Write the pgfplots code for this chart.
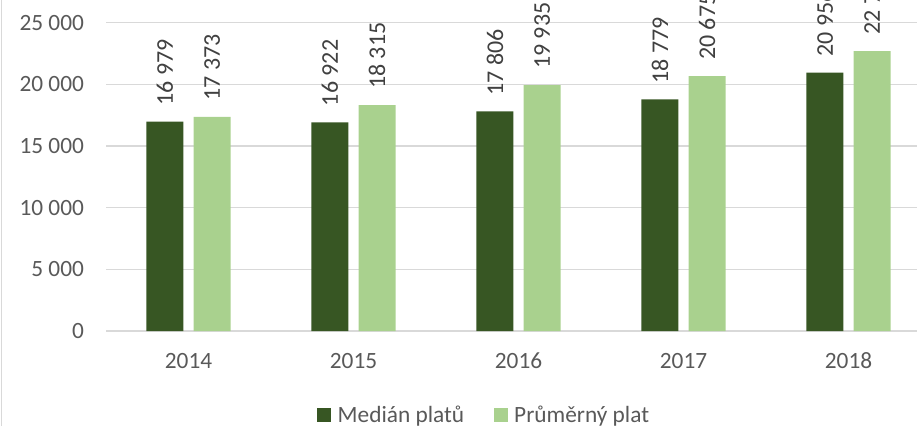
\documentclass[border=0pt]{standalone}
\usepackage{fontspec}
\setmainfont{Carlito}
\usepackage{pgfplots}
\pgfplotsset{compat=1.18}
\definecolor{darkg}{HTML}{375623}
\definecolor{lightg}{HTML}{A9D18E}
\definecolor{gridc}{HTML}{D9D9D9}
\definecolor{tickc}{HTML}{595959}
\definecolor{labc}{HTML}{404040}
\begin{document}
\begin{tikzpicture}
\useasboundingbox (0,0) rectangle (687.75pt,319.5pt);
\clip (0,0) rectangle (687.75pt,319.5pt);
\draw[gridc, line width=0.9pt] (0.9pt,0) -- (0.9pt,319.5pt);
\begin{axis}[
  at={(79.5pt,71.25pt)}, anchor=south west,
  scale only axis, width=608.25pt, height=231.2pt,
  xmin=-0.5, xmax=4.415, ymin=0, ymax=25000,
  xtick={0,1,2,3,4}, xticklabels={2014,2015,2016,2017,2018},
  ytick={0,5000,10000,15000,20000,25000},
  scaled y ticks=false,
  /pgf/number format/.cd, 1000 sep={\ }, assume math mode=true, /pgfplots/.cd,
  major tick length=0pt,
  axis line style={draw=none},
  ymajorgrids, grid style={gridc, line width=0.9pt},
  tick label style={font=\fontsize{17.5pt}{21pt}\selectfont, text=tickc},
  xticklabel style={yshift=-13pt},
  yticklabel style={xshift=-13pt},
  clip=false,
  ybar, bar width=27.75pt,
  nodes near coords={\pgfmathprintnumber[1000 sep={\ }, assume math mode=true]{\pgfplotspointmeta}},
  every node near coord/.append style={rotate=90, anchor=west, inner xsep=12pt, inner ysep=0pt,
     font=\fontsize{18pt}{21pt}\selectfont, text=labc},
  legend columns=2,
  legend image code/.code={\fill[#1] (0pt,-5.25pt) rectangle (10.5pt,5.25pt);},
  legend style={at={(axis description cs:0.2602,-0.274)}, anchor=west, draw=none, fill=none,
     inner sep=0pt, outer sep=0pt,
     font=\fontsize{17.5pt}{21pt}\selectfont, text=tickc,
     nodes={inner sep=0pt},
     /tikz/every odd column/.append style={column sep=5pt},
     /tikz/every even column/.append style={column sep=22pt}},
]
\addplot[fill=darkg, draw=none, bar shift=-17.7pt] coordinates {(0,16979) (1,16922) (2,17806) (3,18779) (4,20956)};
\addplot[fill=lightg, draw=none, bar shift=17.7pt] coordinates {(0,17373) (1,18315) (2,19935) (3,20675) (4,22707)};
\legend{Medián platů, Průměrný plat}
\end{axis}
\end{tikzpicture}
\end{document}
